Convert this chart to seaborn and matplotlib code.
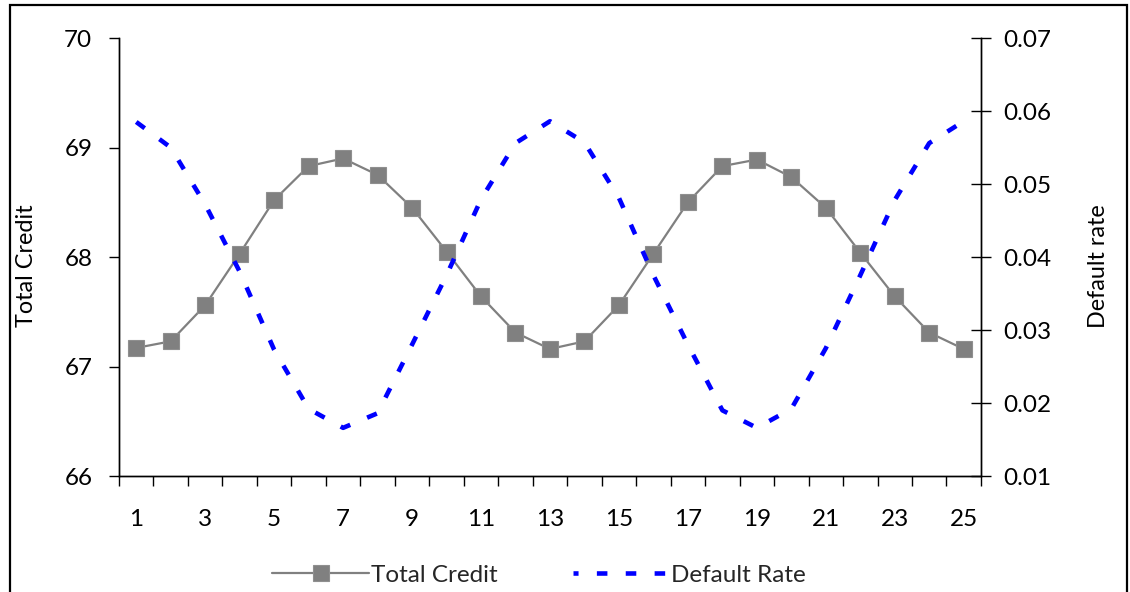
import matplotlib
matplotlib.use("Agg")
import matplotlib.pyplot as plt
from matplotlib.patches import Rectangle
from matplotlib.lines import Line2D
from matplotlib.ticker import FixedLocator, MultipleLocator
import seaborn as sns
import pandas as pd

# Period index
periods = list(range(1, 26))

# Total credit (left axis)
total_credit = [67.17, 67.23, 67.56, 68.03, 68.52, 68.83, 68.90, 68.75, 68.45,
                68.05, 67.64, 67.31, 67.16, 67.23, 67.56, 68.03, 68.50, 68.83,
                68.89, 68.73, 68.45, 68.04, 67.64, 67.31, 67.16]

# Default rate (right axis)
default_rate = [0.0585, 0.0550, 0.0472, 0.0380, 0.0273, 0.0192, 0.0166, 0.0186,
                0.0280, 0.0375, 0.0479, 0.0556, 0.0586, 0.0557, 0.0481, 0.0375,
                0.0280, 0.0190, 0.0166, 0.0192, 0.0275, 0.0375, 0.0478, 0.0556,
                0.0586]

left_ticks = [66, 67, 68, 69, 70]
right_ticks = [0.01, 0.02, 0.03, 0.04, 0.05, 0.06, 0.07]
x_labels = [str(p) for p in periods if p % 2 == 1]

df = pd.DataFrame({"period": periods, "credit": total_credit, "rate": default_rate})

sns.set_theme(style="white")
plt.rcParams["font.family"] = ["Lato", "DejaVu Sans"]

TICK_FS = 17.5
LABEL_FS = 16.8
LEGEND_FS = 17.5

fig = plt.figure(figsize=(11.30, 5.92), dpi=100)
ax = fig.add_axes([0.1053, 0.1959, 0.7628, 0.7399])
ax2 = ax.twinx()

sns.lineplot(data=df, x="period", y="credit", ax=ax, color="#808080",
             linewidth=1.6, marker="s", markersize=11,
             markerfacecolor="#808080", markeredgecolor="#8f8f8f",
             markeredgewidth=0.8, label="Total Credit", legend=False)
sns.lineplot(data=df, x="period", y="rate", ax=ax2, color="#0000ff",
             linewidth=3.3, label="Default Rate", legend=False)
rate_line = ax2.lines[0]
rate_line.set_linestyle((0, (2.3, 4.0)))
rate_line.set_dash_capstyle("butt")

# Axis ranges
ax.set_xlim(0.5, 25.5)
ax.set_ylim(66, 70)
ax2.set_ylim(0.01, 0.07)

# Category-style x axis: labels on odd periods, ticks between categories
ax.xaxis.set_major_locator(FixedLocator([p for p in periods if p % 2 == 1]))
ax.set_xticklabels(x_labels)
ax.xaxis.set_minor_locator(MultipleLocator(1, offset=0.5))
ax.tick_params(axis="x", which="major", length=0, pad=24, labelsize=TICK_FS,
               colors="black")
ax.tick_params(axis="x", which="minor", length=7.2, width=1.0, direction="out",
               color="black", bottom=True)

ax.set_yticks(left_ticks)
ax.set_yticklabels([str(t) for t in left_ticks])
ax.tick_params(axis="y", which="major", length=7.2, width=1.0, direction="out",
               pad=12, labelsize=TICK_FS, colors="black", left=True)

ax2.set_yticks(right_ticks)
ax2.set_yticklabels([f"{t:.2f}" for t in right_ticks])
ax2.tick_params(axis="y", which="major", length=14, width=1.0,
                direction="inout", pad=9, labelsize=TICK_FS, colors="black",
                right=True)

ax.set_xlabel("")
ax.set_ylabel("Total Credit", fontsize=LABEL_FS, color="black")
ax2.set_ylabel("Default rate", fontsize=LABEL_FS, color="black")
ax.yaxis.set_label_coords(-0.095, 0.48)
ax2.yaxis.set_label_coords(1.124, 0.48)

for a in (ax, ax2):
    a.spines["top"].set_visible(False)
    for side in ("left", "right", "bottom"):
        a.spines[side].set_color("black")
        a.spines[side].set_linewidth(1.0)
    a.grid(False)
    a.set_facecolor("none")

# Legend below the plot; the rate sample ends with a short gap before its text
rate_handle = Line2D([], [], color="#0000ff", linewidth=3.3,
                     linestyle=(1.2, (2.3, 4.0)), dash_capstyle="butt")
handles = [ax.lines[0], rate_handle]
labels = ["Total Credit", "Default Rate"]
fig.legend(handles, labels, loc="center", bbox_to_anchor=(0.477, 0.028),
           ncol=2, frameon=False, fontsize=LEGEND_FS, handlelength=4.0,
           handletextpad=0.05, columnspacing=3.1)

# Outer chart border
fig.patches.append(Rectangle((0.0088, -0.05), 0.9885, 1.0416,
                             transform=fig.transFigure, fill=False,
                             edgecolor="black", linewidth=1.6, clip_on=False))

fig.savefig("out.png", dpi=100, facecolor="white")
